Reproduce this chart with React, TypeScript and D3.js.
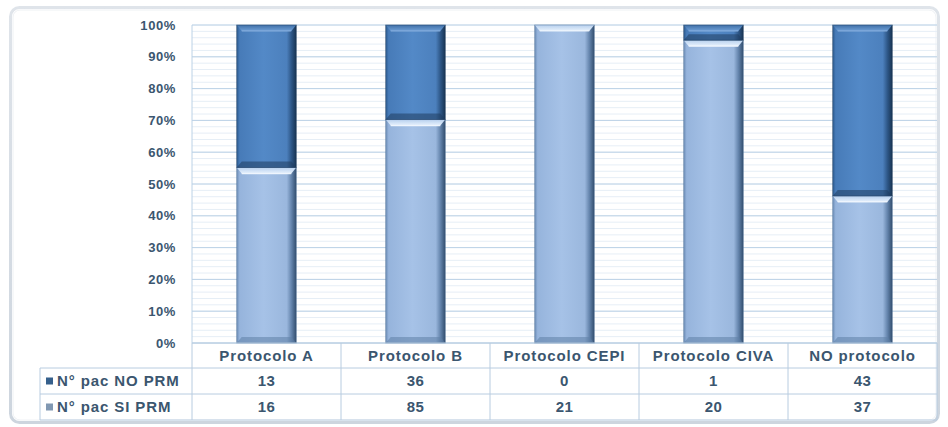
import React from "react";
import * as d3 from "d3";

// Categories and series counts (patients with / without PRM per protocol)
const categories = ["Protocolo A", "Protocolo B", "Protocolo CEPI", "Protocolo CIVA", "NO protocolo"];
const noPrm = [13, 36, 0, 1, 43];
const siPrm = [16, 85, 21, 20, 37];
const seriesNames = ["N° pac NO PRM", "N° pac SI PRM"];
const yTicks = [0, 0.1, 0.2, 0.3, 0.4, 0.5, 0.6, 0.7, 0.8, 0.9, 1];

const W = 948;
const H = 427;
const plotLeft = 192;
const plotRight = 937;
const plotTop = 25;
const plotBottom = 343;
const rowH = 26;
const legendLeft = 40;
const textColor = "#3b566f";
const gridColor = "#bcd2e6";
const minorColor = "#e6eef6";
const tableLine = "#b8cce0";
const font = "'Liberation Sans', Arial, sans-serif";

type Seg = { key: string; cat: string; y0: number; y1: number; kind: "si" | "no" };

function Segment({ x, y, w, h, kind, topBevel, bottomBevel }: { x: number; y: number; w: number; h: number; kind: "si" | "no"; topBevel: boolean; bottomBevel: boolean }) {
  if (h <= 0) return null;
  const b = Math.min(6, h / 2);
  const s = Math.min(5, w / 4);
  return (
    <g>
      <rect x={x} y={y} width={w} height={h} fill={`url(#body-${kind})`} />
      {topBevel && (
        <>
          <polygon points={`${x},${y} ${x + w},${y} ${x + w - s},${y + b} ${x + s},${y + b}`} fill={`url(#top-${kind})`} />
          <line x1={x + s} x2={x + w - s} y1={y + b} y2={y + b} stroke={kind === "si" ? "#f4f9ff" : "#8fb6e2"} strokeWidth={1.2} opacity={0.9} />
        </>
      )}
      {bottomBevel && (
        <polygon points={`${x},${y + h} ${x + w},${y + h} ${x + w - s},${y + h - b} ${x + s},${y + h - b}`} fill={kind === "si" ? "#5f7fa6" : "#1f3d5f"} opacity={0.55} />
      )}
      <rect x={x} y={y} width={w} height={h} fill="none" stroke={kind === "si" ? "#4f6f96" : "#1e3b5c"} strokeWidth={0.8} opacity={0.6} />
    </g>
  );
}

export default function App() {
  const x = d3.scaleBand<string>().domain(categories).range([plotLeft, plotRight]).paddingInner(0.6).paddingOuter(0.3);
  const col = d3.scaleBand<string>().domain(categories).range([plotLeft, plotRight]);
  const y = d3.scaleLinear().domain([0, 1]).range([plotBottom, plotTop]);
  const minorTicks = d3.range(0, 1.0001, 0.02);

  const segs: Seg[] = [];
  categories.forEach((c, i) => {
    const total = noPrm[i] + siPrm[i];
    const pSi = siPrm[i] / total;
    segs.push({ key: c + "-si", cat: c, y0: 0, y1: pSi, kind: "si" });
    segs.push({ key: c + "-no", cat: c, y0: pSi, y1: 1, kind: "no" });
  });

  const rows = [
    { name: seriesNames[0], values: noPrm, swatch: "#36608c" },
    { name: seriesNames[1], values: siPrm, swatch: "#8198b2" },
  ];
  const headerTop = plotBottom;
  const row1Top = headerTop + 25;
  const tableBottom = row1Top + rowH * 2;

  return (
    <div style={{ position: "absolute", left: 0, top: 0 }}>
      <svg width={W} height={H} style={{ display: "block", background: "#ffffff" }} fontFamily={font}>
        <defs>
          <linearGradient id="body-no" x1="0" x2="1" y1="0" y2="0">
            <stop offset="0" stopColor="#2c5a8e" />
            <stop offset="0.05" stopColor="#477bb8" />
            <stop offset="0.45" stopColor="#5389c7" />
            <stop offset="0.84" stopColor="#4c80bd" />
            <stop offset="0.92" stopColor="#2d5686" />
            <stop offset="1" stopColor="#183452" />
          </linearGradient>
          <linearGradient id="body-si" x1="0" x2="1" y1="0" y2="0">
            <stop offset="0" stopColor="#6d8db6" />
            <stop offset="0.05" stopColor="#96b4dc" />
            <stop offset="0.45" stopColor="#a6c2e7" />
            <stop offset="0.84" stopColor="#9ab7dd" />
            <stop offset="0.92" stopColor="#6383ab" />
            <stop offset="1" stopColor="#324e6e" />
          </linearGradient>
          <linearGradient id="top-no" x1="0" x2="0" y1="0" y2="1">
            <stop offset="0" stopColor="#3f70a8" />
            <stop offset="1" stopColor="#6f9fd6" />
          </linearGradient>
          <linearGradient id="top-si" x1="0" x2="0" y1="0" y2="1">
            <stop offset="0" stopColor="#b7d0ee" />
            <stop offset="1" stopColor="#e8f2fd" />
          </linearGradient>
          <linearGradient id="frame" x1="0" x2="0" y1="0" y2="1">
            <stop offset="0" stopColor="#dfe4ea" />
            <stop offset="1" stopColor="#cdd5de" />
          </linearGradient>
        </defs>

        {/* chart frame */}
        <rect x={10.5} y={7.5} width={928} height={415} rx={9} fill="#ffffff" stroke="url(#frame)" strokeWidth={3} />
        <rect x={13} y={10} width={923} height={410} rx={7} fill="none" stroke="#eef1f4" strokeWidth={1} />

        {/* minor gridlines */}
        {minorTicks.map((t) => (
          <line key={"m" + t.toFixed(2)} x1={plotLeft} x2={plotRight} y1={y(t)} y2={y(t)} stroke={minorColor} strokeWidth={1} />
        ))}
        {/* major gridlines */}
        {yTicks.map((t) => (
          <line key={"g" + t} x1={plotLeft} x2={plotRight} y1={y(t)} y2={y(t)} stroke={gridColor} strokeWidth={1} />
        ))}
        <line x1={plotLeft} x2={plotLeft} y1={plotTop} y2={plotBottom} stroke={gridColor} strokeWidth={1} />

        {/* y tick labels */}
        {yTicks.map((t) => (
          <text key={"t" + t} x={176} y={y(t)} dy="0.36em" textAnchor="end" fontSize={13} fontWeight="bold" fill={textColor} letterSpacing={0.6}>
            {d3.format(".0%")(t)}
          </text>
        ))}

        {/* stacked bars */}
        {segs.map((s) => {
          const x0 = x(s.cat) as number;
          const top = y(s.y1);
          const h = y(s.y0) - y(s.y1);
          return (
            <Segment key={s.key} x={x0} y={top} w={x.bandwidth()} h={h} kind={s.kind} topBevel={true} bottomBevel={s.kind === "no" || s.y0 === 0} />
          );
        })}

        {/* data table */}
        <g stroke={tableLine} strokeWidth={1}>
          <line x1={plotLeft} x2={plotRight} y1={headerTop} y2={headerTop} />
          {[row1Top, row1Top + rowH, tableBottom].map((yy) => (
            <line key={"h" + yy} x1={legendLeft} x2={plotRight} y1={yy} y2={yy} />
          ))}
          <line x1={legendLeft} x2={legendLeft} y1={row1Top} y2={tableBottom} />
          {categories.map((c) => (
            <line key={"v" + c} x1={col(c) as number} x2={col(c) as number} y1={headerTop} y2={tableBottom} />
          ))}
          <line x1={plotRight} x2={plotRight} y1={headerTop} y2={tableBottom} />
        </g>

        {categories.map((c) => (
          <text key={"c" + c} x={(col(c) as number) + col.bandwidth() / 2} y={headerTop + 13} dy="0.36em" textAnchor="middle" fontSize={15} fontWeight="bold" fill={textColor} letterSpacing={0.9}>
            {c}
          </text>
        ))}

        {rows.map((r, ri) => {
          const cy = row1Top + rowH * ri + rowH / 2;
          return (
            <g key={r.name}>
              <rect x={46} y={cy - 3.5} width={7} height={7} fill={r.swatch} />
              <text x={57} y={cy} dy="0.36em" fontSize={15} fontWeight="bold" fill={textColor} letterSpacing={0.9}>
                {r.name}
              </text>
              {r.values.map((v, i) => (
                <text key={i} x={(col(categories[i]) as number) + col.bandwidth() / 2} y={cy} dy="0.36em" textAnchor="middle" fontSize={15} fontWeight="bold" fill={textColor} letterSpacing={0.5}>
                  {v}
                </text>
              ))}
            </g>
          );
        })}
      </svg>
    </div>
  );
}
